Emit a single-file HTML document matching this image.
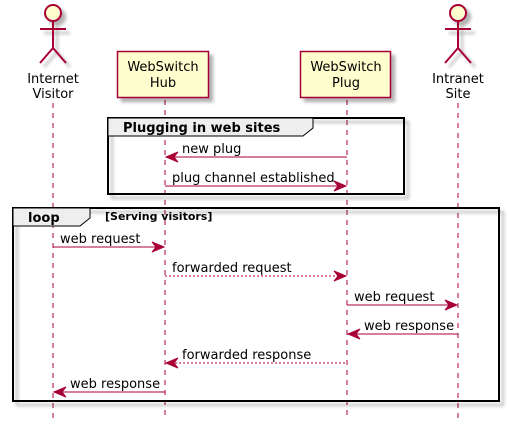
<!DOCTYPE html>
<html><head><style>body{margin:0;background:#fff}svg{display:block}</style></head><body>
<svg width="509" height="428" xmlns="http://www.w3.org/2000/svg" font-family="'DejaVu Sans','Liberation Sans',sans-serif">
<defs>
<filter id="sh" x="-20%" y="-20%" width="150%" height="150%"><feGaussianBlur in="SourceAlpha" stdDeviation="1.5"/><feOffset dx="4" dy="4"/><feComponentTransfer><feFuncA type="linear" slope="0.3"/></feComponentTransfer><feMerge><feMergeNode/><feMergeNode in="SourceGraphic"/></feMerge></filter>
</defs>
<g stroke="#A80036" stroke-width="1" stroke-dasharray="5,5">
<line x1="53" y1="103" x2="53" y2="420"/>
<line x1="165" y1="100" x2="165" y2="420"/>
<line x1="347" y1="100" x2="347" y2="420"/>
<line x1="458" y1="103" x2="458" y2="420"/>
</g>
<!-- actors -->
<g stroke="#A80036" stroke-width="2" fill="#FEFECE" filter="url(#sh)">
<circle cx="53" cy="13" r="8"/>
<path d="M53 21V48M40 29H66M40 63L53 48L66 63" fill="none"/>
<circle cx="458" cy="13" r="8"/>
<path d="M458 21V48M445 29H471M445 63L458 48L471 63" fill="none"/>
</g>
<g font-size="13" fill="#000" text-anchor="middle">
<text x="53" y="83">Internet</text><text x="53" y="98">Visitor</text>
<text x="458" y="83">Intranet</text><text x="458" y="98">Site</text>
</g>
<!-- participants -->
<g stroke="#A80036" stroke-width="1.5" fill="#FEFECE" filter="url(#sh)">
<rect x="117.5" y="51.5" width="91" height="46"/>
<rect x="300.5" y="51.5" width="90" height="46"/>
</g>
<g font-size="13" fill="#000" text-anchor="middle">
<text x="163" y="71">WebSwitch</text><text x="163" y="87">Hub</text>
<text x="346" y="71">WebSwitch</text><text x="346" y="87">Plug</text>
</g>
<!-- group 1 -->
<rect x="108" y="118" width="296" height="76" fill="none" stroke="#000" stroke-width="2" filter="url(#sh)"/>
<path d="M108 118H313V128L303 136H108Z" fill="#EEEEEE" stroke="#000" stroke-width="1"/>
<text x="123" y="132" font-size="13" font-weight="bold">Plugging in web sites</text>
<!-- loop -->
<rect x="13" y="208" width="486" height="193" fill="none" stroke="#000" stroke-width="2" filter="url(#sh)"/>
<path d="M13 208H90V218L80 226H13Z" fill="#EEEEEE" stroke="#000" stroke-width="1"/>
<text x="28" y="222" font-size="13" font-weight="bold">loop</text>
<text x="105" y="220" font-size="11" font-weight="bold">[Serving visitors]</text>
<!-- messages -->
<g stroke="#A80036" stroke-width="1" fill="none">
<line x1="167" y1="157" x2="347" y2="157"/>
<line x1="165" y1="186" x2="345" y2="186"/>
<line x1="53" y1="247" x2="163" y2="247"/>
<line x1="165" y1="276" x2="345" y2="276" stroke-dasharray="2,2"/>
<line x1="347" y1="305" x2="456" y2="305"/>
<line x1="349" y1="334" x2="458" y2="334"/>
<line x1="167" y1="363" x2="347" y2="363" stroke-dasharray="2,2"/>
<line x1="55" y1="392" x2="165" y2="392"/>
</g>
<g fill="#A80036" stroke="#A80036" stroke-width="1">
<path d="M166 157L178 152L174 157L178 162Z"/>
<path d="M346 186L334 181L338 186L334 191Z"/>
<path d="M164 247L152 242L156 247L152 252Z"/>
<path d="M346 276L334 271L338 276L334 281Z"/>
<path d="M457 305L445 300L449 305L445 310Z"/>
<path d="M348 334L360 329L356 334L360 339Z"/>
<path d="M166 363L178 358L174 363L178 368Z"/>
<path d="M54 392L66 387L62 392L66 397Z"/>
</g>
<g font-size="13" fill="#000">
<text x="182" y="153">new plug</text>
<text x="172" y="182">plug channel established</text>
<text x="60" y="243">web request</text>
<text x="172" y="272">forwarded request</text>
<text x="354" y="301">web request</text>
<text x="364" y="330">web response</text>
<text x="182" y="359">forwarded response</text>
<text x="70" y="388">web response</text>
</g>
</svg>
</body></html>
